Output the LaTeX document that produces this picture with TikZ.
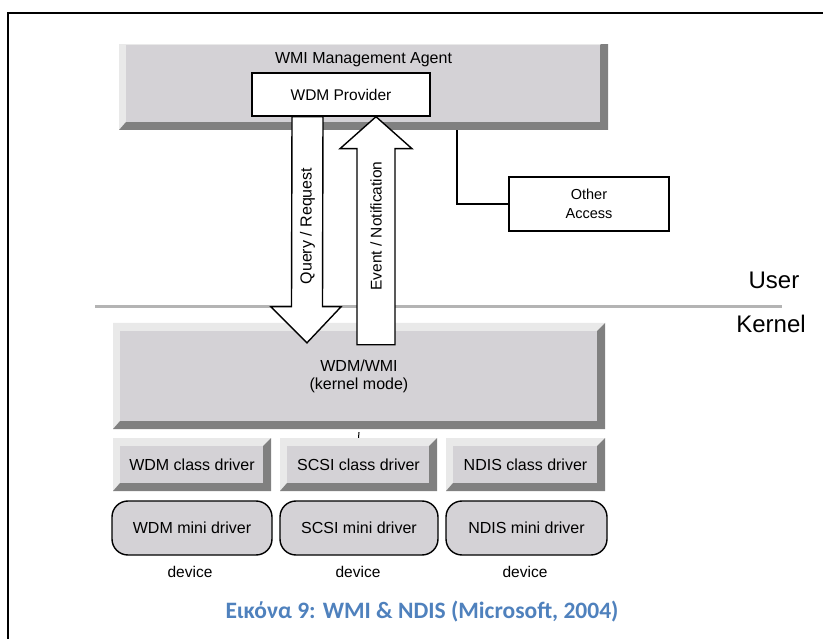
\documentclass[tikz,border=0pt]{standalone}
\usepackage{fontspec}
\setmainfont{Liberation Sans}
\newfontfamily\capfont{Carlito}
\usetikzlibrary{calc}
\definecolor{face}{HTML}{D4D2D6}
\definecolor{shd}{HTML}{808080}
\definecolor{hil}{HTML}{E9E9E9}
\definecolor{sepgray}{HTML}{B4B4B4}
\definecolor{capblue}{HTML}{4F81BD}
\newcommand\fsz[2]{\fontsize{#1}{#2}\selectfont}
\newcommand\bevbox[6]{%
  \fill[hil] (#2,#3) -- (#4,#3) -- ({#4-8},{#3+8}) -- ({#2+7},{#3+8}) -- ({#2+7},{#5-8}) -- (#2,#5) -- cycle;
  \fill[shd] (#4,#3) -- (#4,#5) -- (#2,#5) -- ({#2+7},{#5-8}) -- ({#4-8},{#5-8}) -- ({#4-8},{#3+8}) -- cycle;
  \fill[face] ({#2+7},{#3+8}) rectangle ({#4-8},{#5-8});
  \node[boxtext, minimum width={#4-#2}, minimum height={#5-#3}] (#1) at ({(#2+#4)/2},{(#3+#5)/2}) {#6};
}
\begin{document}
\begin{tikzpicture}[x=1pt,y=-1pt,
  boxtext/.style={inner sep=0pt, align=center, font=\fsz{16}{18}},
  plainbox/.style={draw, fill=white, line width=1.4pt, inner sep=0pt, align=center},
  mini/.style={draw, fill=face, line width=1.4pt, rounded corners=16pt, inner sep=0pt,
    minimum height=54, font=\fsz{16}{18}},
  fat/.style={draw, fill=white, line width=1.4pt, line join=miter},
  devlbl/.style={inner sep=0pt, font=\fsz{15.5}{17}},
  biglbl/.style={inner sep=0pt, font=\fsz{24}{28}},
  conn/.style={line width=1.4pt}]
\useasboundingbox (0,0) rectangle (823,639);
\fill[white] (0,0) rectangle (823,639);
% frame
\coordinate (ftr) at (823,13);
\coordinate (fc) at (8,13);
\coordinate (fbl) at (8,639);
\draw[line width=2.6pt] (ftr) -- (fc) -- (fbl);

% separator user/kernel
\coordinate (sepl) at (95,307);
\coordinate (sepr) at (782,307);
\draw[sepgray, line width=3pt] (sepl) -- (sepr);
\node[biglbl] (user) at (774,280) {User};
\node[biglbl] (kernlbl) at (771,324) {Kernel};

% management agent (top cropped)
\begin{scope}
  \clip (0,45) rectangle (823,639);
  \bevbox{agent}{119}{37}{608}{130}{}
\end{scope}
\node[boxtext] (agenttxt) at (363.5,60) {WMI Management Agent};
\node[plainbox, minimum width=178, minimum height=43, font=\fsz{15.5}{18}] (prov) at (341,94.5) {WDM Provider};

% other access
\node[plainbox, minimum width=160, minimum height=54, font=\fsz{14.5}{19}] (other) at (589,204) {Other\\Access};
\draw[conn] ($(agent.south)+(93.5,0)$) |- (other.west);

% kernel
\bevbox{kernel}{113}{323}{605}{429}{WDM/WMI\\(kernel mode)}

% class drivers
\bevbox{wdmc}{113}{438}{271}{491}{WDM class driver}
\bevbox{scsic}{280}{438}{437}{491}{SCSI class driver}
\bevbox{ndisc}{446}{438}{605}{491}{NDIS class driver}
\draw[line width=1pt] ($(kernel.south)+(0,3)$) -- (scsic.north);

% mini drivers
\node[mini, minimum width=160] (wdmm) at (192,528) {WDM mini driver};
\node[mini, minimum width=158] (scsim) at (359,528) {SCSI mini driver};
\node[mini, minimum width=161] (ndism) at (526.5,528) {NDIS mini driver};
\node[devlbl] (dev1) at (190,572) {device};
\node[devlbl] (dev2) at (358,572) {device};
\node[devlbl] (dev3) at (525,572) {device};

% fat arrows
\coordinate (qs) at ($(prov.south)+(-33.5,0)$);
\coordinate (qe) at ($(kernel.north)+(-52,20)$);
\draw[fat] ($(qs)+(-15.5,0)$) -- ($(qs)+(15.5,0)$) -- ($(qe)+(15.5,-36)$) -- ($(qe)+(34,-36)$)
  -- (qe) -- ($(qe)+(-36,-36)$) -- ($(qe)+(-15.5,-36)$) -- cycle;
\coordinate (es) at ($(kernel.north)+(17,22)$);
\coordinate (ee) at ($(prov.south)+(35,0)$);
\draw[fat] (ee) -- ($(ee)+(36,32)$) -- ($(ee)+(19,32)$) -- ($(es)+(19,0)$) -- ($(es)+(-19,0)$)
  -- ($(ee)+(-19,32)$) -- ($(ee)+(-36,32)$) -- cycle;
\node[rotate=90, inner sep=0pt, font=\fsz{16}{18}] (qlbl) at (307.5,226) {Query / Request};
\node[rotate=90, inner sep=0pt, font=\fsz{15.5}{18}] (elbl) at (376,226) {Event / Notification};

% caption
\node[inner sep=0pt, text=capblue, font=\capfont\bfseries\fsz{23.5}{28}] (cap) at (422,612) {Εικόνα 9: WMI \& NDIS (Microsoft, 2004)};
\end{tikzpicture}
\end{document}
